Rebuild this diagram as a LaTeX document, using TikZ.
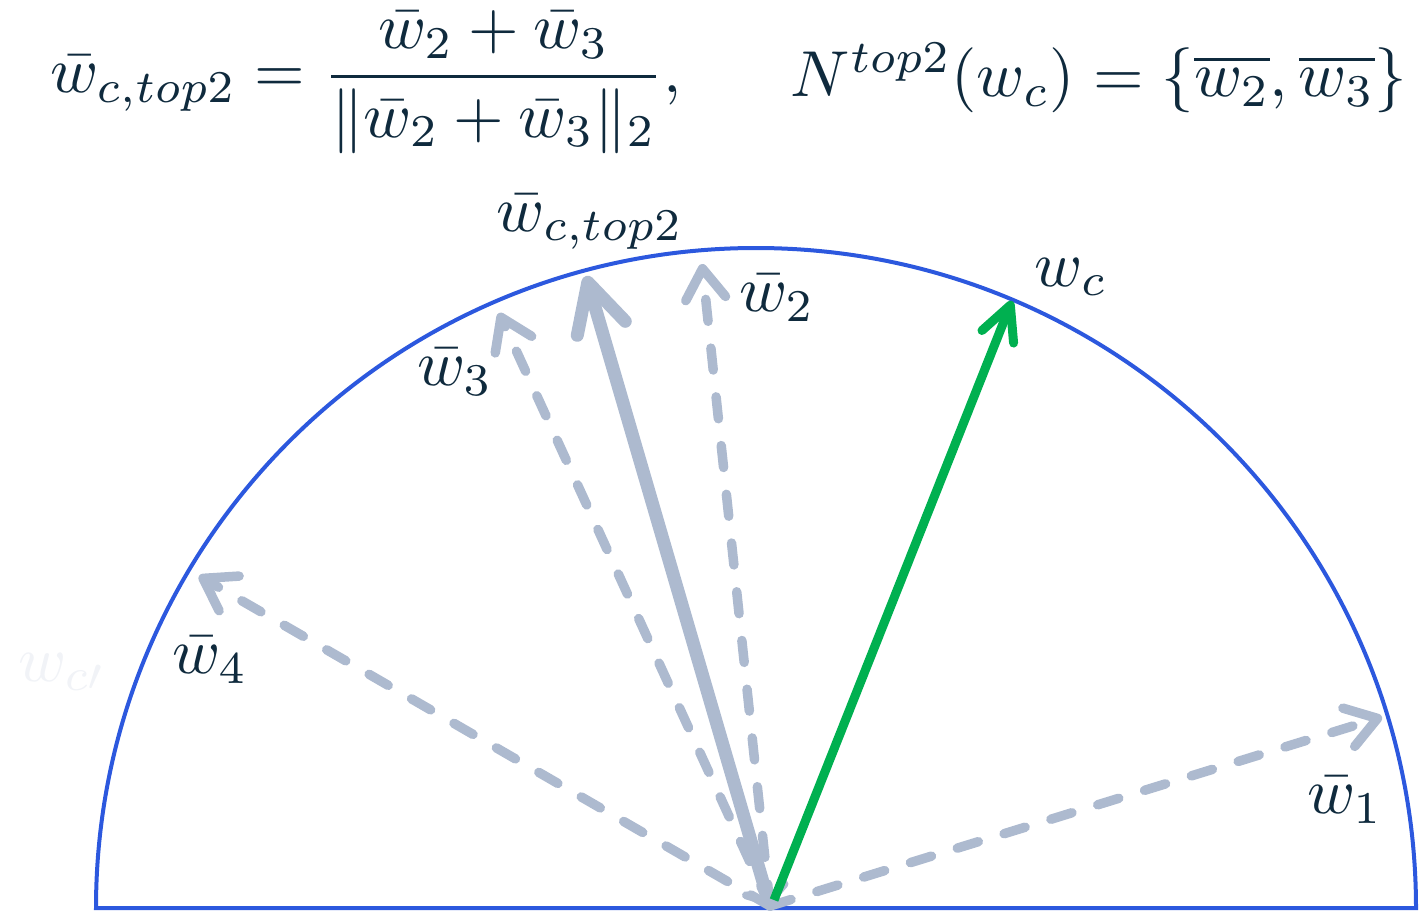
\documentclass[tikz,border=0pt]{standalone}
\usepackage{amsmath}
\usetikzlibrary{arrows.meta}
\definecolor{txt}{HTML}{0F2A3D}
\definecolor{circ}{HTML}{2C58DE}
\definecolor{vgray}{HTML}{ADBACF}
\definecolor{vgreen}{HTML}{00B050}
\definecolor{faint}{HTML}{F1F3F7}
\begin{document}
\begin{tikzpicture}[x=1pt,y=-1pt,
  lbl/.style={text=txt,scale=6.5,inner sep=0pt},
  dvec/.style={vgray,line width=9.5pt,line cap=round,dash pattern=on 22pt off 27pt,
     -{Straight Barb[length=30pt,width=40pt,round]}},
  tvec/.style={vgray,line width=13pt,line cap=round,
     {Straight Barb[length=13pt,width=40pt,round,line width=8pt]}-{Straight Barb[length=48pt,width=50pt,round]}},
  gvec/.style={vgreen,line width=9pt,-{Straight Barb[length=34pt,width=34pt,round]}}]
\useasboundingbox (0,0) rectangle (1428,919);
% semicircle
\draw[circ,line width=4pt,line join=miter] (96,908) arc[start angle=180,end angle=0,radius=660pt] -- cycle;
% coordinates
\coordinate (O) at (770,906);
\coordinate (Og) at (774,900);
\coordinate (t1) at (1382,717);
\coordinate (t2) at (702,264);
\coordinate (t3) at (499,313);
\coordinate (t4) at (199,576);
\coordinate (tt) at (586,276);
\coordinate (tc) at (1012,301);
% vectors
\draw[dvec] (O) -- (t4);
\draw[dvec] (O) -- (t3);
\draw[dvec] (O) -- (t2);
\draw[dvec] (O) -- (t1);
\draw[tvec] (O) -- (tt);
\draw[gvec] (Og) -- (tc);
% labels
\node[lbl] (l1) at (1345,800) {$\bar{w}_1$};
\node[lbl] (l2) at (777,298) {$\bar{w}_2$};
\node[lbl] (l3) at (455,372) {$\bar{w}_3$};
\node[lbl] (l4) at (210,660) {$\bar{w}_4$};
\node[lbl] (lt) at (590,222) {$\bar{w}_{c,top2}$};
\node[lbl] (lc) at (1071,277) {$w_c$};
\node[lbl,text=faint] (lf) at (62,672) {$w_{c\prime}$};
% formulas
\node[lbl] (f1) at (366,82) {$\displaystyle \bar{w}_{c,top2}=\frac{\bar{w}_2+\bar{w}_3}{\|\bar{w}_2+\bar{w}_3\|_2},$};
\node[lbl] (f2) at (1099,78) {$N^{top2}(w_c)=\{\overline{w_2},\overline{w_3}\}$};
\end{tikzpicture}
\end{document}
